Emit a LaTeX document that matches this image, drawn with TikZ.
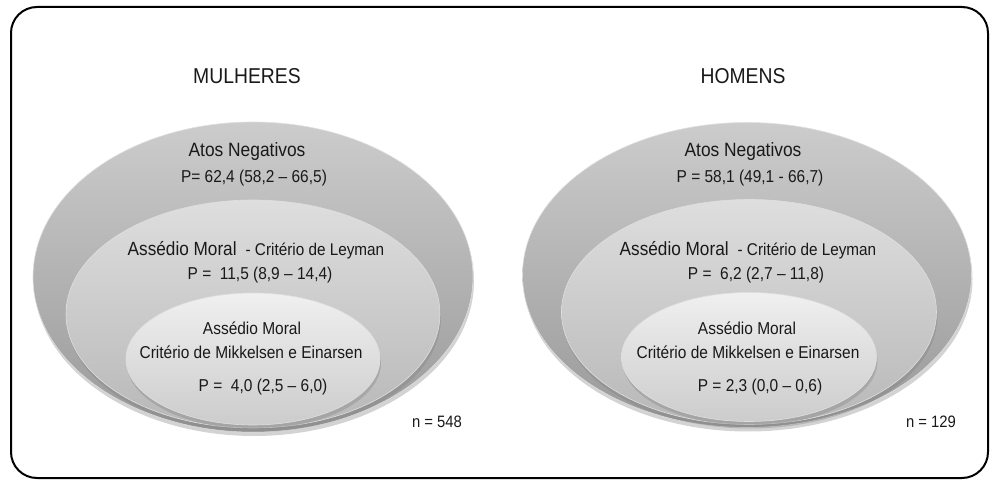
\documentclass[tikz,border=0pt]{standalone}
\usepackage{xcolor}
\usepackage{fontspec}
\setmainfont{Liberation Sans}[FakeStretch=0.9]
\usepackage{tikz}
\usetikzlibrary{shapes.geometric, shadows, positioning}

\definecolor{outerTop}{gray}{0.80}
\definecolor{outerBot}{gray}{0.60}
\definecolor{midTop}{gray}{0.87}
\definecolor{midBot}{gray}{0.72}
\definecolor{inTop}{gray}{0.94}
\definecolor{inBot}{gray}{0.80}

\tikzset{
	ring/.style={shape=ellipse, inner sep=0pt, draw=white!75!gray, line width=0.6pt,
		drop shadow={shadow xshift=1pt, shadow yshift=-4pt, opacity=0.35}},
	outerring/.style={ring, top color=outerTop, bottom color=outerBot},
	midring/.style={ring, top color=midTop, bottom color=midBot},
	inring/.style={ring, top color=inTop, bottom color=inBot},
	txt/.style={text=black!90, inner sep=1pt},
	sexo/.style={txt, font=\fontsize{21.5}{24}\selectfont},
	grande/.style={txt, font=\fontsize{19.3}{22}\selectfont},
	pequeno/.style={txt, font=\fontsize{17.2}{20}\selectfont},
	amostra/.style={txt, font=\fontsize{16.5}{19}\selectfont}
}

\begin{document}
\begin{tikzpicture}[x=1pt, y=1pt]
	\useasboundingbox (0,0) rectangle (991,480);
	\draw[line width=2pt, rounded corners=26pt] (11,473) rectangle (988,2);

	% mulheres
	\node[outerring, minimum width=440pt, minimum height=310pt] (MA) at (253,203) {};
	\node[midring, minimum width=374pt, minimum height=228pt] (MB) at (253,166) {};
	\node[inring, minimum width=254pt, minimum height=132pt] (MC) at (253,121) {};

	\node[sexo] (Mt) at (247,404) {MULHERES};
	\node[grande] (MAt) at (247,328) {Atos Negativos};
	\node[pequeno] (MAp) at (254,302) {P= 62,4 (58,2 – 66,5)};
	\node[txt] (MBt) at (256,230) {{\fontsize{19.1}{22}\selectfont Assédio Moral}\hspace{9pt}{\fontsize{17}{20}\selectfont - Critério de Leyman}};
	\node[pequeno] (MBp) at (260,205) {P =\ \ 11,5 (8,9 – 14,4)};
	\node[pequeno] (MCt) at (252,152) {Assédio Moral};
	\node[pequeno] (MCc) at (251,128) {Critério de Mikkelsen e Einarsen};
	\node[pequeno] (MCp) at (263,93) {P =\ \ 4,0 (2,5 – 6,0)};
	\node[amostra] (Mn) at (437,58) {n = 548};

	% homens
	\node[outerring, minimum width=449pt, minimum height=305pt] (HA) at (747,205) {};
	\node[midring, minimum width=375pt, minimum height=225pt] (HB) at (749,168) {};
	\node[inring, minimum width=255pt, minimum height=129pt] (HC) at (749,123) {};

	\node[sexo] (Ht) at (743,404) {HOMENS};
	\node[grande] (HAt) at (743,328) {Atos Negativos};
	\node[pequeno] (HAp) at (750,302) {P = 58,1 (49,1 - 66,7)};
	\node[txt] (HBt) at (748,230) {{\fontsize{19.1}{22}\selectfont Assédio Moral}\hspace{9pt}{\fontsize{17}{20}\selectfont - Critério de Leyman}};
	\node[pequeno] (HBp) at (756,205) {P =\ \ 6,2 (2,7 – 11,8)};
	\node[pequeno] (HCt) at (747,152) {Assédio Moral};
	\node[pequeno] (HCc) at (748,128) {Critério de Mikkelsen e Einarsen};
	\node[pequeno] (HCp) at (760,93) {P = 2,3 (0,0 – 0,6)};
	\node[amostra] (Hn) at (931,58) {n = 129};
\end{tikzpicture}
\end{document}
